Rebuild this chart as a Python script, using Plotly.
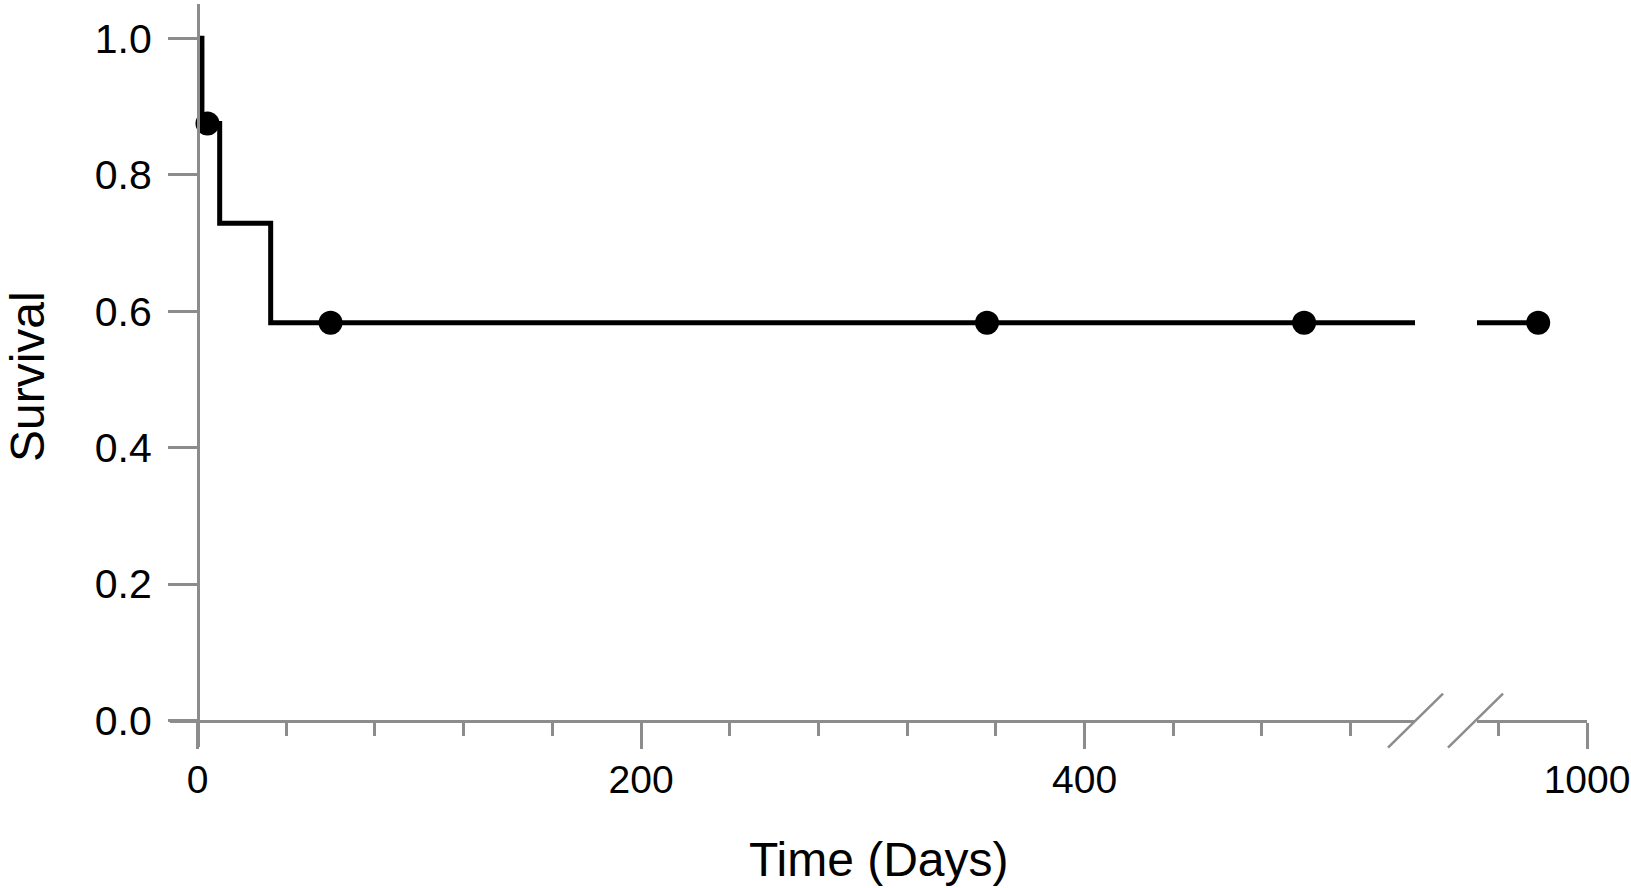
import plotly.graph_objects as go

# ---- data ----
step_days = [0, 2, 10, 33, 549]
step_surv = [1.0, 0.875, 0.729, 0.583, 0.583]
tail_days = [950.4, 978]
tail_surv = [0.583, 0.583]
censor_days_1 = [4.5, 60, 356, 499]
censor_surv_1 = [0.875, 0.583, 0.583, 0.583]
censor_days_2 = [978]
censor_surv_2 = [0.583]
y_ticks = [0.0, 0.2, 0.4, 0.6, 0.8, 1.0]
x1_major = [0, 200, 400]
x1_minor = [40, 80, 120, 160, 240, 280, 320, 360, 440, 480, 520]
x2_major = [1000]
x2_minor = [960]

# ---- layout geometry ----
W, H = 1631, 888
ML, MR, MT, MB = 170, 44, 4, 141
PW, PH = W - ML - MR, H - MT - MB
x1_dom = [0.0, (1415 - ML) / PW]
x2_dom = [(1477 - ML) / PW, 1.0]
x1_range = [-12.4, 549]
x2_range = [950.4, 1000]
y_range = [-0.0388, 1.0503]
yaxis_pos = (198 - ML) / PW
xaxis_pos = (0 - y_range[0]) / (y_range[1] - y_range[0])

AX = "#8c8c8c"
FONT = "Liberation Sans, Arial, sans-serif"
LW = 5
MS = 24

fig = go.Figure()
fig.add_trace(go.Scatter(x=step_days, y=step_surv, mode="lines", line=dict(shape="hv", color="black", width=LW),
                         xaxis="x", yaxis="y", showlegend=False, hoverinfo="skip"))
fig.add_trace(go.Scatter(x=tail_days, y=tail_surv, mode="lines", line=dict(color="black", width=LW),
                         xaxis="x2", yaxis="y", showlegend=False, hoverinfo="skip"))
fig.add_trace(go.Scatter(x=censor_days_1, y=censor_surv_1, mode="markers", marker=dict(color="black", size=MS),
                         xaxis="x", yaxis="y", showlegend=False, cliponaxis=False))
fig.add_trace(go.Scatter(x=censor_days_2, y=censor_surv_2, mode="markers", marker=dict(color="black", size=MS),
                         xaxis="x2", yaxis="y", showlegend=False, cliponaxis=False))

common_x = dict(showgrid=False, zeroline=False, showline=True, linecolor=AX, linewidth=3,
                ticks="outside", ticklen=26, tickwidth=2.5, tickcolor=AX,
                tickfont=dict(family=FONT, size=39, color="black"), ticklabelstandoff=-2,
                ticklabeloverflow="allow", automargin=False,
                anchor="free", position=xaxis_pos, fixedrange=True)
minor_x = dict(tickmode="array", ticks="outside", ticklen=13, tickwidth=2.5, tickcolor=AX)

fig.update_layout(
    width=W, height=H, margin=dict(l=ML, r=MR, t=MT, b=MB),
    paper_bgcolor="white", plot_bgcolor="white",
    xaxis=dict(domain=x1_dom, range=x1_range, tickmode="array", tickvals=x1_major,
               minor=dict(tickvals=x1_minor, **minor_x), **common_x),
    xaxis2=dict(domain=x2_dom, range=x2_range, tickmode="array", tickvals=x2_major,
                minor=dict(tickvals=x2_minor, **minor_x), **common_x),
    yaxis=dict(domain=[0, 1], range=y_range, tickmode="array", tickvals=y_ticks, tickformat=".1f",
               showgrid=False, zeroline=False, showline=True, linecolor=AX, linewidth=3,
               ticks="outside", ticklen=29, tickwidth=2.5, tickcolor=AX,
               tickfont=dict(family=FONT, size=41, color="black"), ticklabelstandoff=8,
               ticklabeloverflow="allow", automargin=False,
               anchor="free", position=yaxis_pos, fixedrange=True),
    annotations=[
        dict(text="Time (Days)", xref="paper", yref="paper", x=(879 - ML) / PW, y=-(859 - (H - MB)) / PH,
             xanchor="center", yanchor="middle", showarrow=False, font=dict(family=FONT, size=48, color="black")),
        dict(text="Survival", xref="paper", yref="paper", x=(27 - ML) / PW, y=((H - MB) - 377) / PH, textangle=-90,
             xanchor="center", yanchor="middle", showarrow=False, font=dict(family=FONT, size=48, color="black")),
    ],
    shapes=[
        dict(type="line", xref="paper", yref="paper", xsizemode="pixel", ysizemode="pixel",
             xanchor=x1_dom[1], yanchor=xaxis_pos, x0=-27, x1=28, y0=-27, y1=27,
             line=dict(color=AX, width=2.5)),
        dict(type="line", xref="paper", yref="paper", xsizemode="pixel", ysizemode="pixel",
             xanchor=x2_dom[0], yanchor=xaxis_pos, x0=-29, x1=26, y0=-27, y1=27,
             line=dict(color=AX, width=2.5)),
    ],
)

fig.write_html("out.html", config={"displayModeBar": False},
               post_script="document.body.style.margin='0';document.body.style.overflow='hidden';")
